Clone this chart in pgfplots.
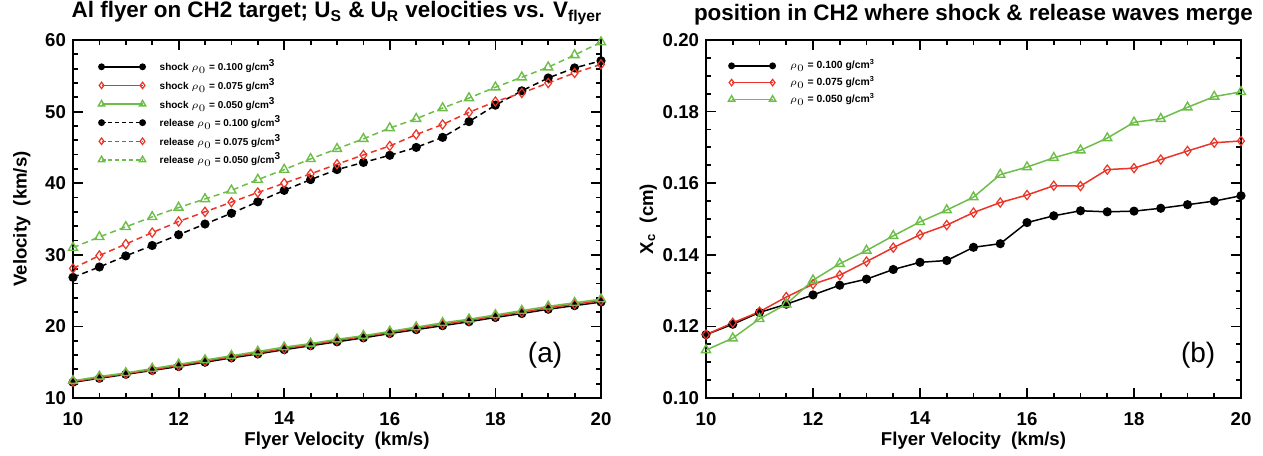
\documentclass[border=0pt]{standalone}
\usepackage{fontspec}
\setmainfont{Liberation Sans}
\usepackage{pgfplots}
\pgfplotsset{compat=1.18}

\definecolor{idlred}{RGB}{236,52,38}
\definecolor{idlgreen}{RGB}{108,190,72}

\pgfplotstableread{
x    bs     rs     gs     br    rr    gr
10   12.20  12.30  12.40  26.85 28.10 31.00
10.5 12.75  12.85  13.00  28.30 29.90 32.50
11   13.30  13.40  13.50  29.85 31.50 33.90
11.5 13.85  13.95  14.10  31.30 33.10 35.30
12   14.40  14.55  14.70  32.80 34.65 36.60
12.5 15.00  15.15  15.30  34.30 36.00 37.80
13   15.60  15.75  15.90  35.80 37.35 39.00
13.5 16.15  16.30  16.50  37.40 38.70 40.50
14   16.75  16.90  17.10  39.00 40.00 41.90
14.5 17.30  17.45  17.60  40.50 41.30 43.40
15   17.85  18.05  18.20  41.90 42.65 44.80
15.5 18.40  18.60  18.70  42.90 43.95 46.20
16   19.00  19.15  19.30  43.90 45.20 47.70
16.5 19.55  19.75  19.90  45.00 46.80 49.00
17   20.10  20.30  20.50  46.40 48.20 50.50
17.5 20.65  20.85  21.00  48.60 49.90 51.90
18   21.25  21.45  21.60  50.90 51.40 53.40
18.5 21.80  22.00  22.20  52.90 52.60 54.80
19   22.40  22.60  22.80  54.70 54.00 56.20
19.5 22.90  23.10  23.30  56.10 55.40 57.90
20   23.40  23.60  23.80  57.10 56.60 59.70
}\velo

\pgfplotstableread{
x    b      r      g
10   0.1177 0.1177 0.1134
10.5 0.1206 0.1210 0.1167
11   0.1239 0.1241 0.1221
11.5 0.1262 0.1282 0.1262
12   0.1288 0.1318 0.1329
12.5 0.1315 0.1343 0.1375
13   0.1332 0.1381 0.1412
13.5 0.1359 0.1420 0.1453
14   0.1379 0.1456 0.1492
14.5 0.1384 0.1483 0.1525
15   0.1421 0.1518 0.1561
15.5 0.1431 0.1546 0.1624
16   0.1490 0.1567 0.1645
16.5 0.1509 0.1593 0.1671
17   0.1523 0.1592 0.1692
17.5 0.1520 0.1638 0.1726
18   0.1522 0.1642 0.1770
18.5 0.1530 0.1666 0.1780
19   0.1540 0.1690 0.1812
19.5 0.1550 0.1713 0.1842
20   0.1565 0.1718 0.1855
}\merge

\pgfplotsset{
  idl/.style={
    scale only axis, height=179pt,
    xmin=10, xmax=20, xtick={10,12,...,20}, minor x tick num=3,
    tick align=inside, xtick pos=both, ytick pos=both,
    major tick length=5pt, minor tick length=2.6pt,
    axis line style={line width=0.75pt},
    tick style={black, line width=0.9pt},
    font=\fontsize{9.3}{10}\selectfont\bfseries,
    /pgf/number format/assume math mode=true,
    xticklabel style={yshift=-3.5pt},
    title style={font=\fontsize{11.2}{12}\selectfont\bfseries, yshift=-2pt},
    every axis x label/.style={at={(axis description cs:0.5,-0.12)}, anchor=center},
    clip=false,
    legend cell align=left,
    legend image code/.code={\draw[mark repeat=1,mark phase=1,##1,every mark/.append style={scale=0.7},dash pattern=on 2pt off 1.4pt] plot coordinates {(0pt,0pt)(20.5pt,0pt)};},
    shklegend/.style={legend image code/.code={\draw[mark repeat=1,mark phase=1,##1,every mark/.append style={scale=0.7}] plot coordinates {(0pt,0pt)(20.5pt,0pt)};}},
  },
  shk/.style={line width=0.75pt, solid, shklegend},
  rel/.style={line width=0.75pt, dash pattern=on 3pt off 2pt},
  mb/.style={black, mark=*, mark size=1.9pt, mark options={solid, fill=black}},
  mr/.style={idlred, mark=diamond, mark size=2.3pt, mark options={solid, line width=0.6pt}},
  mg/.style={idlgreen, mark=triangle, mark size=2.6pt, mark options={solid, line width=0.7pt}},
}

\begin{document}
\begin{tikzpicture}
\useasboundingbox (-36.5pt,-28.5pt) rectangle (595pt,199pt);

\begin{axis}[idl, at={(0,0)}, width=264pt,
  ymin=10, ymax=60, ytick={10,20,...,60}, minor y tick num=4,
  title={Al flyer on CH2 target; U\textsubscript{S} \& U\textsubscript{R} velocities vs. V\textsubscript{flyer}},
  xlabel={Flyer Velocity\ \ (km/s)},
  ylabel={Velocity\ \ (km/s)},
  every axis y label/.style={at={(axis description cs:-0.097,0.5)}, rotate=90, anchor=center},
  legend style={draw=none, fill=none, at={(axis description cs:0.036,0.957)}, anchor=north west,
    font=\fontsize{5}{5.5}\selectfont\bfseries, row sep=2.3pt,
    nodes={inner sep=0pt},
    /tikz/every odd column/.append style={column sep=7pt}},
]
\addplot[shk, mb] table[x=x, y=bs] {\velo};
\addlegendentry{shock $\rho_0$ = 0.100 g/cm\textsuperscript{3}}
\addplot[shk, mr] table[x=x, y=rs] {\velo};
\addlegendentry{shock $\rho_0$ = 0.075 g/cm\textsuperscript{3}}
\addplot[shk, mg] table[x=x, y=gs] {\velo};
\addlegendentry{shock $\rho_0$ = 0.050 g/cm\textsuperscript{3}}
\addplot[rel, mb] table[x=x, y=br] {\velo};
\addlegendentry{release $\rho_0$ = 0.100 g/cm\textsuperscript{3}}
\addplot[rel, mr] table[x=x, y=rr] {\velo};
\addlegendentry{release $\rho_0$ = 0.075 g/cm\textsuperscript{3}}
\addplot[rel, mg] table[x=x, y=gr] {\velo};
\addlegendentry{release $\rho_0$ = 0.050 g/cm\textsuperscript{3}}
\node[font=\fontsize{14}{14}\selectfont\mdseries] at (rel axis cs:0.894,0.12) {(a)};
\end{axis}

\begin{axis}[idl, at={(316.5pt,0)}, width=267.5pt,
  ymin=0.10, ymax=0.20, ytick={0.10,0.12,...,0.20}, minor y tick num=3,
  yticklabel style={/pgf/number format/.cd, fixed, fixed zerofill, precision=2},
  title={position in CH2 where shock \& release waves merge},
  xlabel={Flyer Velocity\ \ (km/s)},
  ylabel={X\textsubscript{c}\ \ (cm)},
  every axis y label/.style={at={(axis description cs:-0.108,0.5)}, rotate=90, anchor=center},
  legend style={draw=none, fill=none, at={(axis description cs:0.030,0.957)}, anchor=north west,
    font=\fontsize{5.2}{5.7}\selectfont\bfseries, row sep=2.3pt,
    nodes={inner sep=0pt},
    /tikz/every odd column/.append style={column sep=7pt}},
]
\addplot[shk, mb] table[x=x, y=b] {\merge};
\addlegendentry{$\rho_0$ = 0.100 g/cm\textsuperscript{3}}
\addplot[shk, mr] table[x=x, y=r] {\merge};
\addlegendentry{$\rho_0$ = 0.075 g/cm\textsuperscript{3}}
\addplot[shk, mg] table[x=x, y=g] {\merge};
\addlegendentry{$\rho_0$ = 0.050 g/cm\textsuperscript{3}}
\node[font=\fontsize{14}{14}\selectfont\mdseries] at (rel axis cs:0.92,0.12) {(b)};
\end{axis}
\end{tikzpicture}
\end{document}
